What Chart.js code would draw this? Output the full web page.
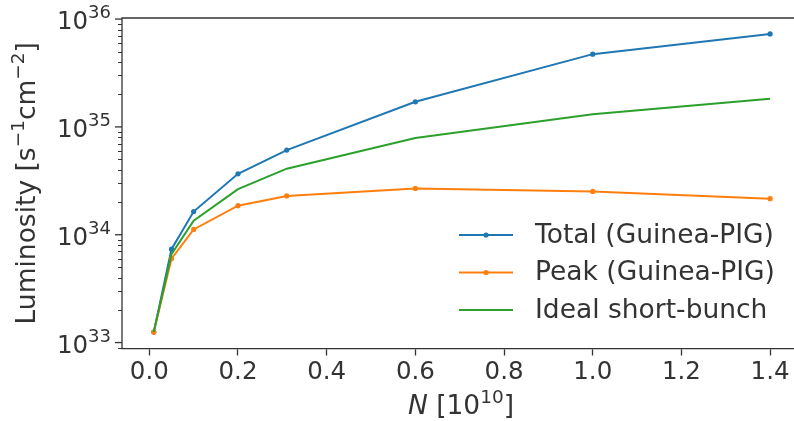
<!DOCTYPE html>
<html>
<head>
<meta charset="utf-8">
<script src="https://cdn.jsdelivr.net/npm/chart.js@4"></script>
<style>
  html, body { margin: 0; padding: 0; background: #ffffff; overflow: hidden; }
  canvas { display: block; }
</style>
</head>
<body>
<canvas id="c" width="794" height="421"></canvas>
<script>
// ---- data ----
const nValues   = [0.01, 0.05, 0.1, 0.2, 0.31, 0.6, 1.0, 1.4];
const totalLum  = [1.25e33, 7.35e33, 1.64e34, 3.67e34, 6.1e34, 1.71e35, 4.73e35, 7.28e35];
const peakLum   = [1.25e33, 6.0e33, 1.12e34, 1.86e34, 2.29e34, 2.69e34, 2.52e34, 2.16e34];
const idealLum  = [1.25e33, 6.6e33, 1.35e34, 2.65e34, 4.1e34, 7.9e34, 1.31e35, 1.82e35];
const seriesLabels = ['Total (Guinea-PIG)', 'Peak (Guinea-PIG)', 'Ideal short-bunch'];
const xTickValues = [0.0, 0.2, 0.4, 0.6, 0.8, 1.0, 1.2, 1.4];
const yMajorExps = [33, 34, 35, 36];

const C_BLUE = '#1f77b4', C_ORANGE = '#ff7f0e', C_GREEN = '#2ca02c';
const TXT = '#333333';
const FONT = '"DejaVu Sans", sans-serif';

function pts(vals) { return nValues.map((x, i) => ({ x: x, y: vals[i] })); }

function drawParts(ctx, parts, x, y, align, base, sup, rise) {
  const fnt = p => (p.italic ? 'italic ' : '') + (p.sup ? sup : base) + 'px ' + FONT;
  const widths = parts.map(p => { ctx.font = fnt(p); return ctx.measureText(p.t).width; });
  const total = widths.reduce((a, b) => a + b, 0);
  let cx = align === 'right' ? x - total : (align === 'center' ? x - total / 2 : x);
  parts.forEach((p, i) => {
    ctx.font = fnt(p);
    ctx.fillText(p.t, cx, p.sup ? y - rise : y);
    cx += widths[i];
  });
}

const decor = {
  id: 'decor',
  afterDraw(chart) {
    const ctx = chart.ctx, a = chart.chartArea;
    const ys = chart.scales.y;
    ctx.save();
    ctx.fillStyle = TXT;
    ctx.strokeStyle = TXT;
    // spines (left + top; right spine lies outside the picture)
    ctx.lineWidth = 1.3;
    ctx.beginPath();
    ctx.moveTo(a.left, a.bottom); ctx.lineTo(a.left, a.top); ctx.lineTo(a.right, a.top);
    ctx.stroke();
    // y minor ticks
    ctx.lineWidth = 1;
    for (let e = 32; e <= 36; e++) {
      for (let m = 2; m <= 9; m++) {
        const v = m * Math.pow(10, e);
        if (v < ys.min || v > ys.max) continue;
        const py = Math.round(ys.getPixelForValue(v)) + 0.5;
        ctx.beginPath(); ctx.moveTo(a.left, py); ctx.lineTo(a.left - 4, py); ctx.stroke();
      }
    }
    // y major ticks + labels
    ctx.lineWidth = 1.3;
    ctx.textBaseline = 'alphabetic';
    yMajorExps.forEach(e => {
      const py = ys.getPixelForValue(Math.pow(10, e));
      ctx.beginPath(); ctx.moveTo(a.left, py); ctx.lineTo(a.left - 7, py); ctx.stroke();
      drawParts(ctx, [{ t: '10' }, { t: String(e), sup: true }], a.left - 11, py + 10, 'right', 24.5, 18, 11);
    });
    // y axis title (rotated)
    ctx.save();
    ctx.translate(35, (a.top + a.bottom) / 2);
    ctx.rotate(-Math.PI / 2);
    drawParts(ctx, [{ t: 'Luminosity [s' }, { t: '\u22121', sup: true }, { t: 'cm' }, { t: '\u22122', sup: true }, { t: ']' }], 0, 0, 'center', 26.5, 18.5, 11);
    ctx.restore();
    // x axis title
    drawParts(ctx, [{ t: 'N', italic: true }, { t: ' [10' }, { t: '10', sup: true }, { t: ']' }], 461, 414, 'center', 26.5, 18.5, 11);
    // legend
    const dsets = chart.data.datasets;
    const rows = [235, 272.5, 310];
    dsets.forEach((d, i) => {
      const ry = rows[i];
      ctx.strokeStyle = d.borderColor;
      ctx.lineWidth = 2;
      ctx.beginPath(); ctx.moveTo(459, ry); ctx.lineTo(513, ry); ctx.stroke();
      if (d.pointRadius > 0) {
        ctx.fillStyle = d.borderColor;
        ctx.beginPath(); ctx.arc(486, ry, 2.6, 0, Math.PI * 2); ctx.fill();
      }
      ctx.fillStyle = TXT;
      ctx.font = '26.5px ' + FONT;
      ctx.textBaseline = 'middle';
      ctx.fillText(d.label, 535, ry + 1);
    });
    ctx.restore();
  }
};

new Chart(document.getElementById('c'), {
  type: 'line',
  data: {
    datasets: [
      { label: seriesLabels[0], data: pts(totalLum), borderColor: C_BLUE, backgroundColor: C_BLUE,
        borderWidth: 2, pointRadius: 2.6, pointBorderWidth: 0, pointBackgroundColor: C_BLUE, order: 3 },
      { label: seriesLabels[1], data: pts(peakLum), borderColor: C_ORANGE, backgroundColor: C_ORANGE,
        borderWidth: 2, pointRadius: 2.6, pointBorderWidth: 0, pointBackgroundColor: C_ORANGE, order: 2 },
      { label: seriesLabels[2], data: pts(idealLum), borderColor: C_GREEN, backgroundColor: C_GREEN,
        borderWidth: 2, pointRadius: 0, order: 1 }
    ]
  },
  options: {
    responsive: false,
    animation: false,
    layout: { autoPadding: false, padding: { top: 18, right: 0, left: 0, bottom: 0 } },
    plugins: { legend: { display: false }, tooltip: { enabled: false }, title: { display: false } },
    elements: { line: { tension: 0 } },
    scales: {
      x: {
        type: 'linear',
        min: -0.0616, max: 1.4539,
        afterBuildTicks(scale) { scale.ticks = xTickValues.map(v => ({ value: v })); },
        afterFit(scale) { scale.height = 72.5; scale.paddingLeft = 0; scale.paddingRight = 0; },
        ticks: {
          autoSkip: false, maxRotation: 0, padding: 2,
          color: TXT, font: { family: FONT, size: 24.5 },
          callback: v => Number(v).toFixed(1)
        },
        grid: { drawOnChartArea: false, drawTicks: true, tickLength: 7, tickColor: TXT, tickWidth: 1.3 },
        border: { display: true, color: TXT, width: 1.3 }
      },
      y: {
        type: 'logarithmic',
        min: Math.pow(10, 32.945), max: Math.pow(10, 36.01),
        afterBuildTicks(scale) { scale.ticks = yMajorExps.map(e => ({ value: Math.pow(10, e) })); },
        afterFit(scale) { scale.width = 122; scale.paddingTop = 0; scale.paddingBottom = 0; },
        ticks: { display: false },
        grid: { display: false },
        border: { display: false }
      }
    }
  },
  plugins: [decor]
});
</script>
</body>
</html>
